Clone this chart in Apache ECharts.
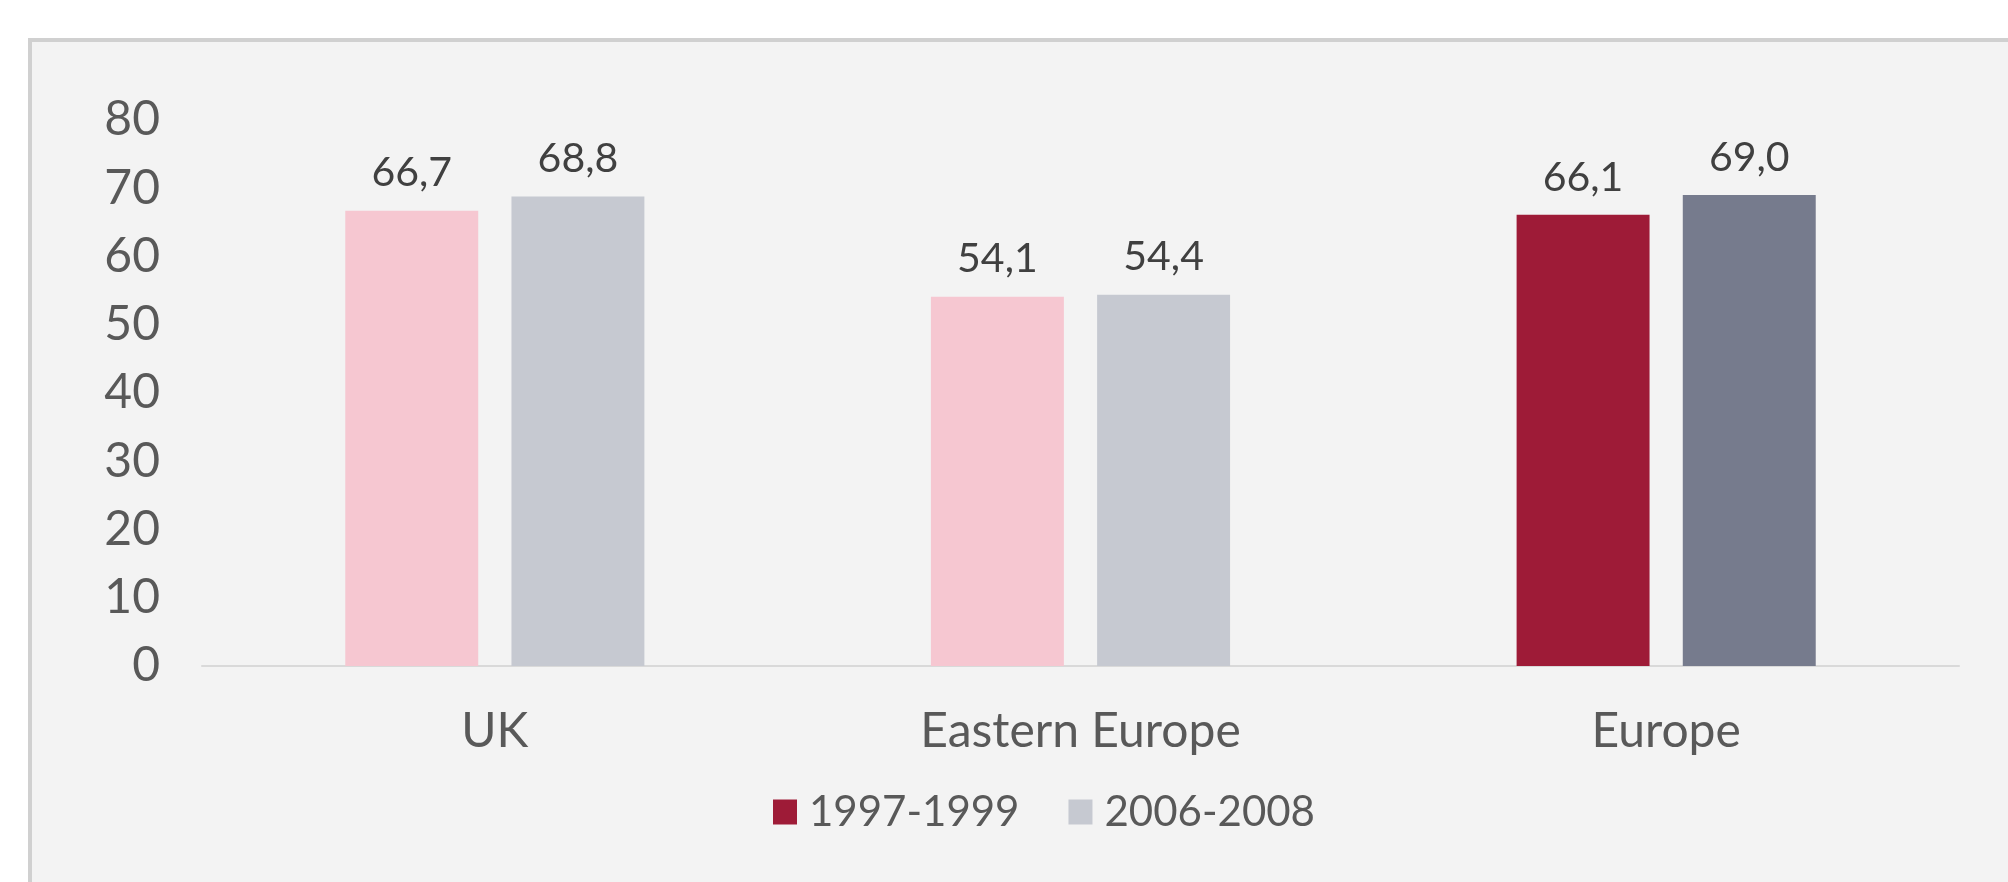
<!DOCTYPE html>
<html>
<head>
<meta charset="utf-8">
<script src="https://cdn.jsdelivr.net/npm/echarts@6/dist/echarts.min.js"></script>
<style>
  html, body { margin: 0; padding: 0; background: #fff; }
  #container { width: 2008px; height: 882px; }
</style>
</head>
<body>
<div id="container"></div>
<script>
const categories = ['UK', 'Eastern Europe', 'Europe']
const early = [66.7, 54.1, 66.1]
const late = [68.8, 54.4, 69.0]

const earlyColors = ['#f6c7d1', '#f6c7d1', '#9e1b37']
const lateColors = ['#c6c9d1', '#c6c9d1', '#767b8d']

const myChart = echarts.init(document.getElementById('container'))

const fmt = (p) => p.value.toFixed(1).replace('.', ',')

const option = {
  animation: false,
  textStyle: { fontFamily: 'Lato' },
  graphic: [
    {
      type: 'rect',
      shape: { x: 30, y: 40, width: 2100, height: 900 },
      style: { fill: '#f3f3f3', stroke: '#d0d0d0', lineWidth: 4 },
      z: -10
    }
  ],
  grid: { left: 202, right: 49, top: 120, bottom: 216 },
  legend: {
    data: ['1997-1999', '2006-2008'],
    left: 768,
    top: 786,
    itemWidth: 24,
    itemHeight: 25,
    itemGap: 49,
    icon: 'rect',
    textStyle: { fontSize: 42, color: '#595959', padding: [0, 0, 0, 7] }
  },
  xAxis: {
    type: 'category',
    data: categories,
    axisLine: { lineStyle: { color: '#d9d9d9', width: 2 } },
    axisTick: { show: false },
    axisLabel: { fontSize: 48, color: '#595959', margin: 42 }
  },
  yAxis: {
    type: 'value',
    min: 0,
    max: 80,
    interval: 10,
    axisLine: { show: false },
    axisTick: { show: false },
    splitLine: { show: false },
    axisLabel: { fontSize: 48, color: '#595959', margin: 42 }
  },
  series: [
    {
      name: '1997-1999',
      type: 'bar',
      barWidth: '22.7%',
      barGap: '25%',
      itemStyle: { color: '#9e1b37' },
      label: { show: true, position: 'top', distance: 17, fontSize: 41, color: '#404040', formatter: fmt },
      data: early.map((v, i) => ({ value: v, itemStyle: { color: earlyColors[i] } }))
    },
    {
      name: '2006-2008',
      type: 'bar',
      barWidth: '22.7%',
      barGap: '25%',
      itemStyle: { color: '#c6c9d1' },
      label: { show: true, position: 'top', distance: 17, fontSize: 41, color: '#404040', formatter: fmt },
      data: late.map((v, i) => ({ value: v, itemStyle: { color: lateColors[i] } }))
    }
  ]
}

myChart.setOption(option)
</script>
</body>
</html>
